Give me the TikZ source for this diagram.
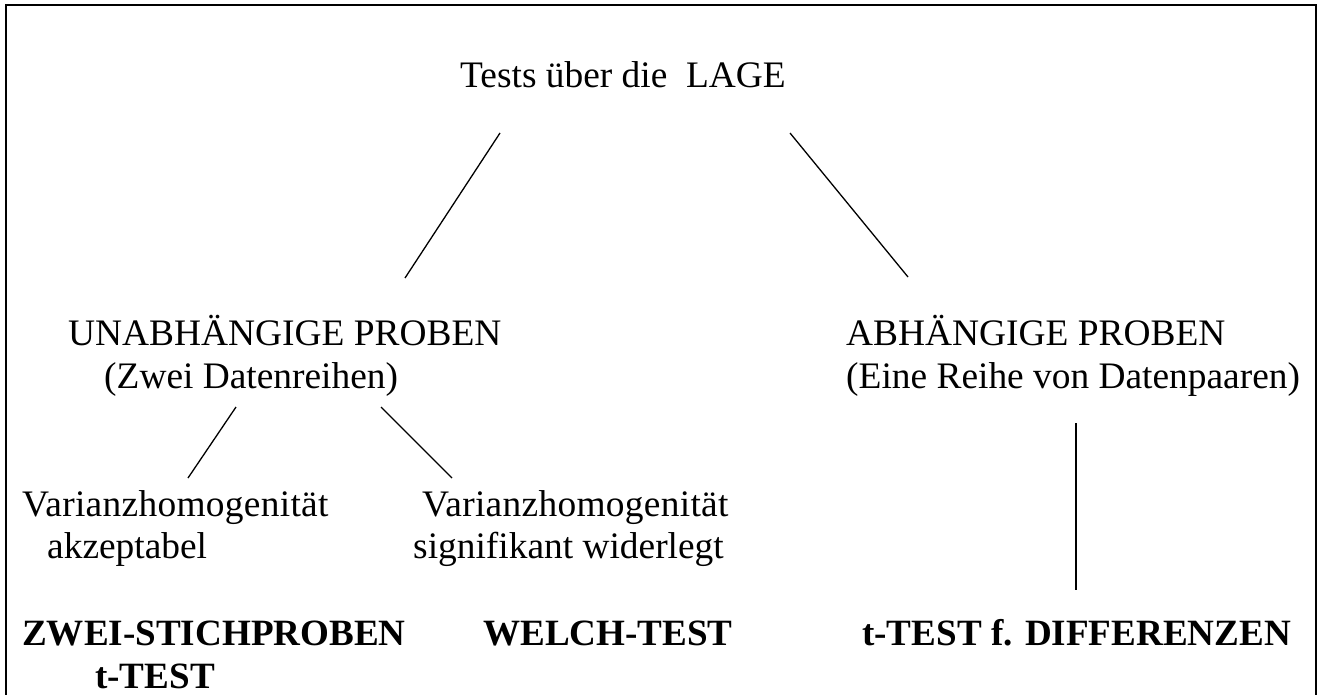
\documentclass[tikz,border=0pt]{standalone}
\usepackage{fontspec}
\setmainfont{Liberation Serif}
\begin{document}
\begin{tikzpicture}[x=1pt,y=-1pt,
  txt/.style={anchor=base west,inner sep=0pt,font=\fontsize{37.4}{43}\selectfont},
  btxt/.style={anchor=base west,inner sep=0pt,font=\fontsize{37.1}{43}\selectfont\bfseries},
  conn/.style={line width=1.3pt}]
\useasboundingbox (0,0) rectangle (1321,695);
\draw[line width=1.5pt] (6,695) -- (6,5) -- (1316,5) -- (1316,695);
\node[txt] (lage) at (460,88) {Tests über die\ \ LAGE};
\node[txt] (unab1) at (68,345) {UNABHÄNGIGE PROBEN};
\node[txt] (unab2) at (104,388) {(Zwei Datenreihen)};
\node[txt] (abh1) at (846,345) {ABHÄNGIGE PROBEN};
\node[txt] (abh2) at (846,388) {(Eine Reihe von Datenpaaren)};
\node[txt] (va1) at (22,516) {\addfontfeature{LetterSpace=0.8}Varianzhomogenität};
\node[txt] (va2) at (47,558) {akzeptabel};
\node[txt] (vs1) at (422,516) {\addfontfeature{LetterSpace=0.8}Varianzhomogenität};
\node[txt] (vs2) at (413,558) {signifikant widerlegt};
\node[btxt] (zwei1) at (22,645) {ZWEI-STICHPROBEN};
\node[btxt] (zwei2) at (95,688) {t-TEST};
\node[btxt] (welch) at (483,645) {WELCH-TEST};
\node[btxt] (diff) at (862,645) {t-TEST f. DIFFERENZEN};
\coordinate (l1a) at (500,133); \coordinate (l1b) at (405,278);
\coordinate (l2a) at (790,133); \coordinate (l2b) at (908,277);
\coordinate (l3a) at (236,407); \coordinate (l3b) at (188,478);
\coordinate (l4a) at (381,407); \coordinate (l4b) at (452,478);
\coordinate (l5a) at (1076,423); \coordinate (l5b) at (1076,590);
\draw[conn] (l1a) -- (l1b);
\draw[conn] (l2a) -- (l2b);
\draw[conn] (l3a) -- (l3b);
\draw[conn] (l4a) -- (l4b);
\draw[conn] (l5a) -- (l5b);
\end{tikzpicture}
\end{document}
